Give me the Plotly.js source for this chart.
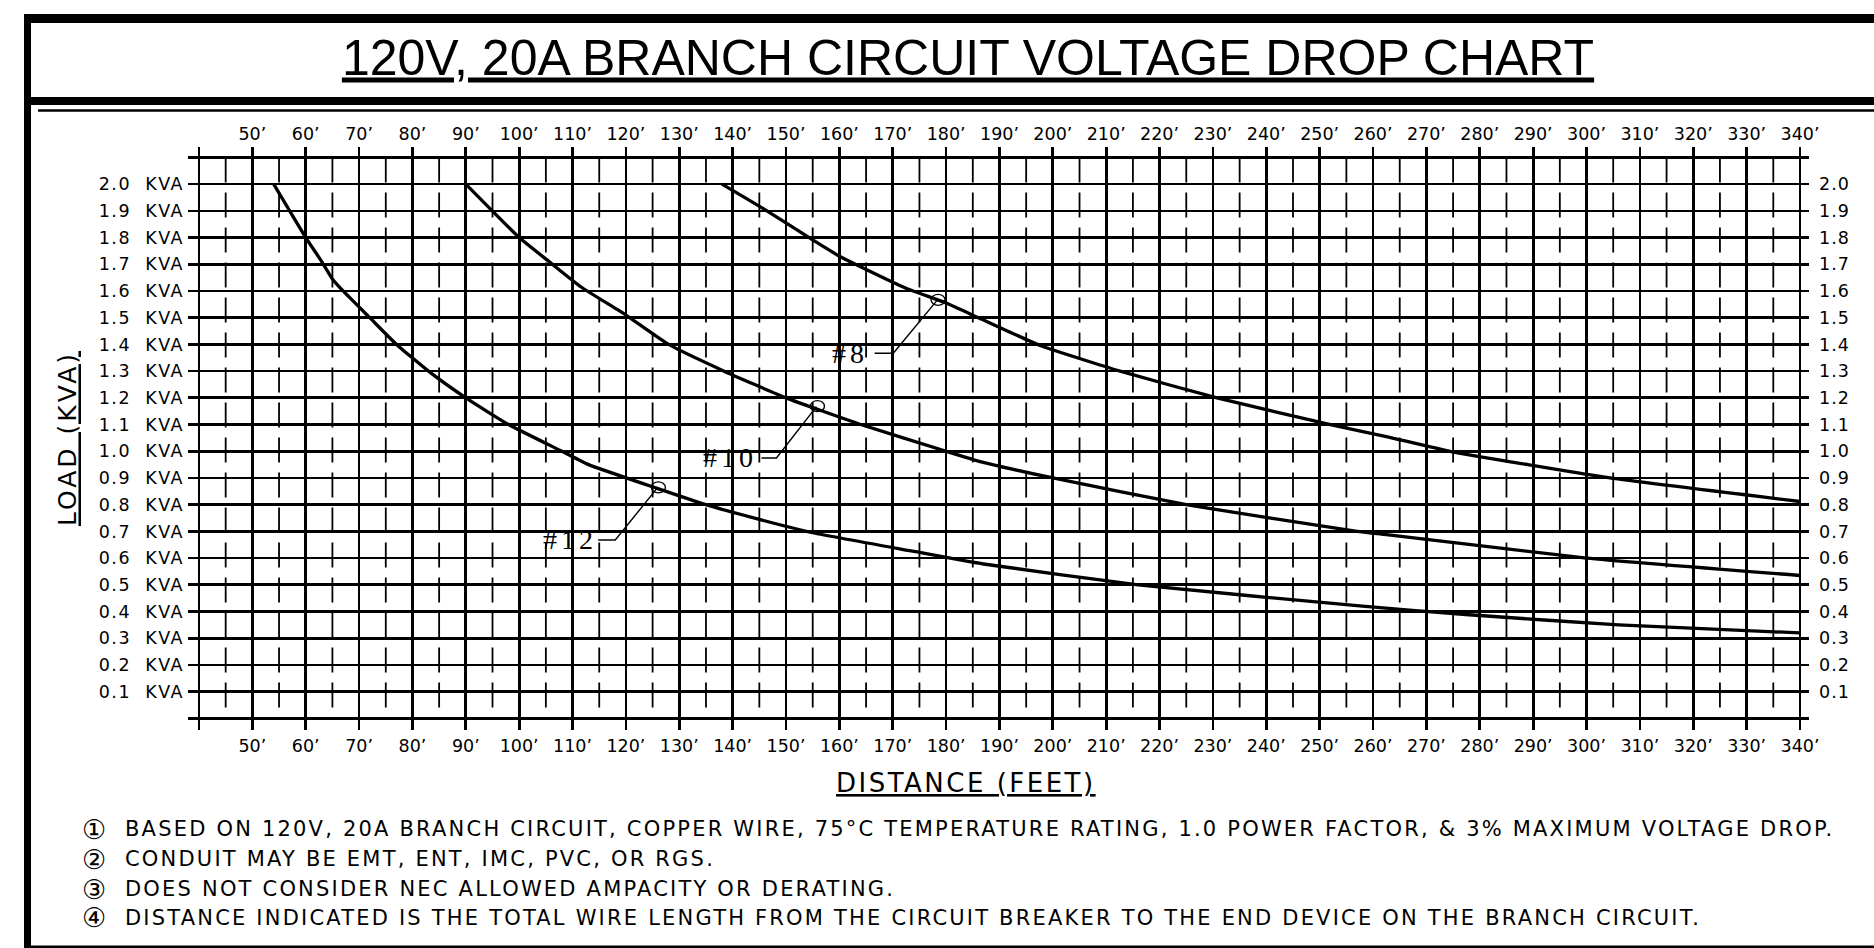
<!DOCTYPE html>
<html>
<head>
<meta charset="utf-8">
<script src="https://cdn.plot.ly/plotly-3.0.1.min.js"></script>
<style>
html,body{margin:0;padding:0;background:#fff;}
#chart{width:1874px;height:948px;}
.ytick text{letter-spacing:1.5px;}
.y2tick text{letter-spacing:1px;}
.ytitle{letter-spacing:3px;}
</style>
</head>
<body>
<div id="chart"></div>
<script>
// ---------------- DATA ----------------
// Distance (feet) tick values and labels
const distTickVals = [40,50,60,70,80,90,100,110,120,130,140,150,160,170,180,190,200,210,220,230,240,250,260,270,280,290,300,310,320,330,340];
const distTickText = ["","50’","60’","70’","80’","90’","100’","110’","120’","130’","140’","150’","160’","170’","180’","190’","200’","210’","220’","230’","240’","250’","260’","270’","280’","290’","300’","310’","320’","330’","340’"];
const distMinorVals = [45,55,65,75,85,95,105,115,125,135,145,155,165,175,185,195,205,215,225,235,245,255,265,275,285,295,305,315,325,335];

// Load (KVA) tick values and labels
const loadTickVals = [0,0.1,0.2,0.3,0.4,0.5,0.6,0.7,0.8,0.9,1.0,1.1,1.2,1.3,1.4,1.5,1.6,1.7,1.8,1.9,2.0,2.1];
const loadTickTextLeft = ["","0.1\u00a0\u00a0KVA","0.2\u00a0\u00a0KVA","0.3\u00a0\u00a0KVA","0.4\u00a0\u00a0KVA","0.5\u00a0\u00a0KVA","0.6\u00a0\u00a0KVA","0.7\u00a0\u00a0KVA","0.8\u00a0\u00a0KVA","0.9\u00a0\u00a0KVA","1.0\u00a0\u00a0KVA","1.1\u00a0\u00a0KVA","1.2\u00a0\u00a0KVA","1.3\u00a0\u00a0KVA","1.4\u00a0\u00a0KVA","1.5\u00a0\u00a0KVA","1.6\u00a0\u00a0KVA","1.7\u00a0\u00a0KVA","1.8\u00a0\u00a0KVA","1.9\u00a0\u00a0KVA","2.0\u00a0\u00a0KVA",""];
const loadTickTextRight = ["","0.1","0.2","0.3","0.4","0.5","0.6","0.7","0.8","0.9","1.0","1.1","1.2","1.3","1.4","1.5","1.6","1.7","1.8","1.9","2.0",""];

// #12 AWG curve
const dist12 = [54,60,63,65,67,72,77,83,90,98,108,113,126,135,145,155,174,187,216,258,278,306,340];
const kva12  = [2.00,1.80,1.71,1.645,1.60,1.50,1.40,1.30,1.20,1.10,1.00,0.95,0.86,0.80,0.745,0.695,0.625,0.578,0.50,0.42,0.388,0.35,0.32];

// #10 AWG curve
const dist10 = [90,100,105.6,111.6,120,128,138.4,150,164,180,186.6,200,225,257,262.5,300,340];
const kva10  = [2.00,1.80,1.71,1.615,1.51,1.40,1.30,1.20,1.10,1.00,0.96,0.90,0.80,0.70,0.688,0.60,0.535];

// #8 AWG curve
const dist8 = [138,145.6,154.7,160,163,172.5,180,186.6,197.6,212.6,230.75,252,262.5,274.4,304.4,340];
const kva8  = [2.00,1.91,1.795,1.73,1.70,1.61,1.555,1.495,1.396,1.30,1.20,1.10,1.055,1.00,0.90,0.812];

const wireNames = ["#12","#10","#8"];

const notes = [
  "BASED ON 120V, 20A BRANCH CIRCUIT, COPPER WIRE, 75°C TEMPERATURE RATING, 1.0 POWER FACTOR, & 3% MAXIMUM VOLTAGE DROP.",
  "CONDUIT MAY BE EMT, ENT, IMC, PVC, OR RGS.",
  "DOES NOT CONSIDER NEC ALLOWED AMPACITY OR DERATING.",
  "DISTANCE INDICATED IS THE TOTAL WIRE LENGTH FROM THE CIRCUIT BREAKER TO THE END DEVICE ON THE BRANCH CIRCUIT."
];
const noteMarks = ["①","②","③","④"];

// ---------------- LAYOUT HELPERS ----------------
const W = 1874, H = 948;
const PL = 188, PR = 1809, PT = 147, PB = 730;
const px = v => (v - PL) / (PR - PL);
const py = v => (PB - v) / (PB - PT);

const SANS = "DejaVu Sans, Verdana, sans-serif";
const tickFont = {family: SANS, size: 17.5, color: "#000"};

// callout placement (label position, leader knee, leader end on curve)
const callouts = [
  {name: wireNames[0], tx: 109.6, ty: 0.668, xs: 114.8, xk: 118.0, xe: 125.9, ye: 0.863},
  {name: wireNames[1], tx: 139.5, ty: 0.975, xs: 145.4, xk: 148.2, xe: 155.7, ye: 1.167},
  {name: wireNames[2], tx: 162.0, ty: 1.367, xs: 166.6, xk: 170.1, xe: 178.3, ye: 1.565}
];

const curveLine = {color: "#000", width: 3.3, shape: "spline", smoothing: 0.4};

const traces = [
  {x: dist12, y: kva12, mode: "lines", line: curveLine, name: wireNames[0], hoverinfo: "skip"},
  {x: dist10, y: kva10, mode: "lines", line: curveLine, name: wireNames[1], hoverinfo: "skip"},
  {x: dist8,  y: kva8,  mode: "lines", line: curveLine, name: wireNames[2], hoverinfo: "skip"},
  {x: [], y: [], xaxis: "x2", yaxis: "y2", mode: "lines", hoverinfo: "skip", showlegend: false}
];
callouts.forEach(c => {
  traces.push({x: [c.xs, c.xk, c.xe], y: [c.ty, c.ty, c.ye], mode: "lines",
    line: {color: "#000", width: 1.4}, hoverinfo: "skip", showlegend: false});
});

const shapes = [];
// minor (dashed) distance lines
distMinorVals.forEach(v => {
  shapes.push({type: "line", xref: "x", yref: "y", x0: v, x1: v, y0: 2.1, y1: 0,
    layer: "between", line: {color: "#000", width: 1.8, dash: "25px,10px"}});
});
// callout loops
callouts.forEach(c => {
  shapes.push({type: "circle", xref: "x", yref: "y", xsizemode: "pixel", ysizemode: "pixel",
    xanchor: c.xe, yanchor: c.ye, x0: -6, x1: 8, y0: -5, y1: 6,
    line: {color: "#000", width: 1.4}});
});
// drawing frame
const blk = {color: "#000", width: 0};
shapes.push({type: "rect", xref: "paper", yref: "paper", x0: px(24), x1: px(1890), y0: py(14), y1: py(23), fillcolor: "#000", line: blk});
shapes.push({type: "rect", xref: "paper", yref: "paper", x0: px(24), x1: px(31), y0: py(14), y1: py(960), fillcolor: "#000", line: blk});
shapes.push({type: "rect", xref: "paper", yref: "paper", x0: px(24), x1: px(1890), y0: py(97), y1: py(105), fillcolor: "#000", line: blk});
shapes.push({type: "line", xref: "paper", yref: "paper", x0: px(38), x1: px(1890), y0: py(110.5), y1: py(110.5), line: {color: "#000", width: 2.5}});
shapes.push({type: "rect", xref: "paper", yref: "paper", x0: px(24), x1: px(1890), y0: py(945.5), y1: py(960), fillcolor: "#000", line: blk});

const annotations = [];
callouts.forEach(c => {
  annotations.push({xref: "x", yref: "y", x: c.tx, y: c.ty, xanchor: "center", yanchor: "middle",
    text: '<span style="letter-spacing:4px">' + c.name + '</span>', showarrow: false,
    font: {family: "Liberation Serif, DejaVu Serif, serif", size: 28, color: "#000"}});
});
annotations.push({xref: "paper", yref: "paper", x: px(966), y: py(783), xanchor: "center", yanchor: "middle",
  text: '<u><span style="letter-spacing:2.5px">DISTANCE (FEET)</span></u>', showarrow: false,
  font: {family: SANS, size: 26, color: "#000"}});
const noteY = [829, 859, 889, 917.5];
notes.forEach((t, i) => {
  annotations.push({xref: "paper", yref: "paper", x: px(94), y: py(noteY[i]), xanchor: "center", yanchor: "middle",
    text: noteMarks[i], showarrow: false, font: {family: SANS, size: 27, color: "#000"}});
  annotations.push({xref: "paper", yref: "paper", x: px(123), y: py(noteY[i]), xanchor: "left", yanchor: "middle",
    text: '<span style="letter-spacing:2.2px">' + t + '</span>', showarrow: false,
    font: {family: SANS, size: 21, color: "#000"}});
});

const xr = [37.94, 341.69];
const yr = [-0.0434, 2.139];

const layout = {
  width: W, height: H,
  margin: {l: PL, r: W - PR, t: PT, b: H - PB, pad: 0},
  paper_bgcolor: "#fff", plot_bgcolor: "#fff",
  showlegend: false,
  title: {text: "<u>120V, 20A BRANCH CIRCUIT VOLTAGE DROP CHART</u>",
    font: {family: "Liberation Sans, Arial, sans-serif", size: 50, color: "#000"},
    xref: "container", yref: "container", x: 968 / W, y: 1 - 57 / H, xanchor: "center", yanchor: "middle"},
  xaxis: {range: xr, tickmode: "array", tickvals: distTickVals, ticktext: distTickText,
    showgrid: true, gridcolor: "#000", gridwidth: 2.7, zeroline: false, showline: false,
    ticks: "", tickfont: tickFont, ticklabelstandoff: 3, fixedrange: true, automargin: false},
  xaxis2: {overlaying: "x", side: "top", range: xr, tickmode: "array", tickvals: distTickVals, ticktext: distTickText,
    showgrid: false, zeroline: false, showline: false, ticks: "", tickfont: tickFont, ticklabelstandoff: 3,
    fixedrange: true, automargin: false},
  yaxis: {range: yr, tickmode: "array", tickvals: loadTickVals, ticktext: loadTickTextLeft,
    showgrid: true, gridcolor: "#000", gridwidth: 2.7, zeroline: false, showline: false,
    ticks: "", tickfont: tickFont, ticklabelstandoff: 3, fixedrange: true, automargin: false,
    title: {text: "<u>LOAD (KVA)</u>", font: {family: SANS, size: 25, color: "#000"}, standoff: 14}},
  yaxis2: {overlaying: "y", side: "right", range: yr, tickmode: "array", tickvals: loadTickVals, ticktext: loadTickTextRight,
    showgrid: false, zeroline: false, showline: false, ticks: "", tickfont: tickFont, ticklabelstandoff: 9,
    fixedrange: true, automargin: false},
  shapes: shapes,
  annotations: annotations
};

Plotly.newPlot("chart", traces, layout, {staticPlot: true, displayModeBar: false});
</script>
</body>
</html>
